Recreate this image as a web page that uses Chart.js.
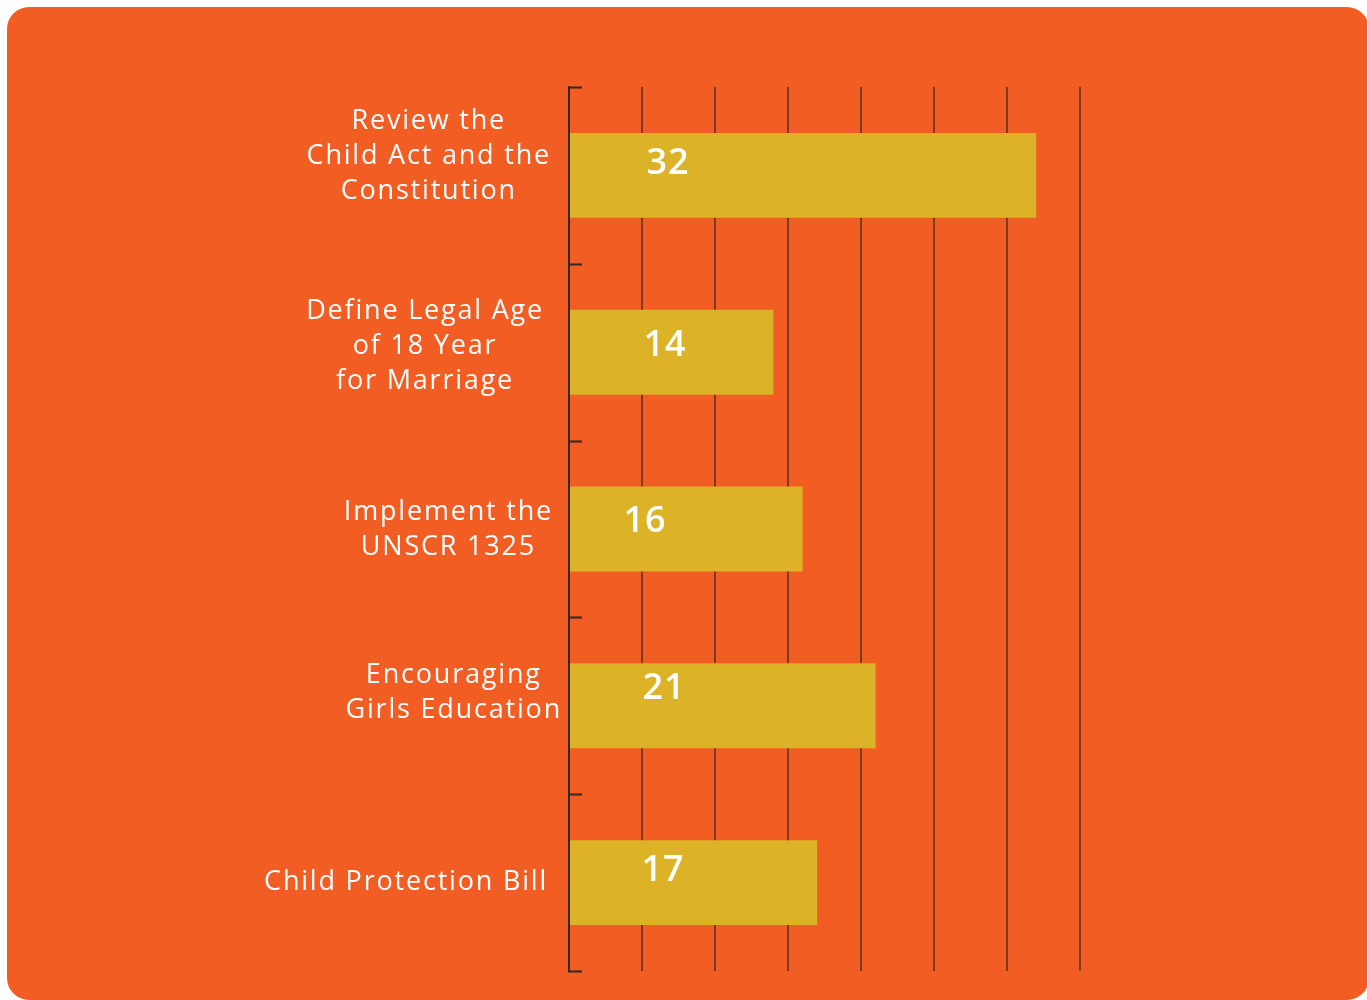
<!DOCTYPE html>
<html>
<head>
<meta charset="utf-8">
<title>Policy priorities</title>
<script src="https://cdn.jsdelivr.net/npm/chart.js@4/dist/chart.umd.min.js"></script>
<style>
  html, body { margin: 0; padding: 0; background: #ffffff; }
  #wrap { position: relative; width: 1367px; height: 1000px; }
  #panel {
    position: absolute; left: 7px; top: 7px; width: 1362px; height: 993px;
    background: #f25d24; border-radius: 22px;
  }
  #bars { position: absolute; left: 0; top: 0; }
</style>
</head>
<body>
<div id="wrap">
  <div id="panel"></div>
  <canvas id="bars" width="1367" height="1000"></canvas>
</div>
<script>
const categories = [
  ['Review the', 'Child Act and the', 'Constitution'],
  ['Define Legal Age', 'of 18 Year', 'for Marriage'],
  ['Implement the', 'UNSCR 1325'],
  ['Encouraging', 'Girls Education'],
  ['Child Protection Bill']
];
const votes = [32, 14, 16, 21, 17];
const xTicks = [0, 5, 10, 15, 20, 25, 30, 35];

// hand placement of the text blocks (px)
const labelShift = [-19, -6, 1, -13, 0];
const labelRight = [551, 544, 553, 562, 548];
const valueShift = [[99, -12], [96, -6], [76, -7], [95, -17], [94, -12]];

const labelFont = '400 27px "Open Sans", sans-serif';
const valueFont = '600 36px "Open Sans", sans-serif';

// category labels, boundary ticks and bar values drawn on top of the chart
const decorations = {
  id: 'decorations',
  afterDraw(chart) {
    const ctx = chart.ctx;
    const x = chart.scales.x;
    const y = chart.scales.y;
    const left = x.getPixelForValue(0);
    ctx.save();

    // little ticks between categories, pointing into the plot
    ctx.strokeStyle = '#2d2a28';
    ctx.lineWidth = 2;
    for (let i = 0; i <= categories.length; i++) {
      const py = Math.round(y.getPixelForValue(i - 0.5)) + 0.5;
      ctx.beginPath();
      ctx.moveTo(left - 1, py);
      ctx.lineTo(left + 13, py);
      ctx.stroke();
    }

    // multi-line labels: block right aligned next to the axis, lines centred
    ctx.fillStyle = '#ffffff';
    ctx.font = labelFont;
    ctx.letterSpacing = '1.8px';
    ctx.textAlign = 'center';
    ctx.textBaseline = 'middle';
    const lineH = 35;
    categories.forEach((lines, i) => {
      const w = Math.max(...lines.map(l => ctx.measureText(l).width));
      const cx = labelRight[i] - w / 2;
      const cy = y.getPixelForValue(i) + labelShift[i];
      lines.forEach((l, k) => {
        ctx.fillText(l, cx, cy + (k - (lines.length - 1) / 2) * lineH);
      });
    });

    // value inside each bar
    ctx.font = valueFont;
    ctx.letterSpacing = '1px';
    votes.forEach((v, i) => {
      const [dx, dy] = valueShift[i];
      ctx.fillText(String(v), left + dx, y.getPixelForValue(i) + dy);
    });
    ctx.restore();
  }
};

new Chart(document.getElementById('bars'), {
  type: 'bar',
  data: {
    labels: categories,
    datasets: [{
      data: votes,
      backgroundColor: '#dcb226',
      borderWidth: 0,
      categoryPercentage: 1,
      barPercentage: 0.48
    }]
  },
  options: {
    indexAxis: 'y',
    responsive: false,
    animation: false,
    layout: { padding: { left: 569, right: 287, top: 87, bottom: 29 } },
    plugins: {
      legend: { display: false },
      tooltip: { enabled: false }
    },
    scales: {
      x: {
        min: xTicks[0],
        max: xTicks[xTicks.length - 1],
        afterBuildTicks: axis => { axis.ticks = xTicks.map(v => ({ value: v })); },
        ticks: { display: false },
        grid: { color: '#7d3a1c', lineWidth: 2, drawTicks: false },
        border: { display: false }
      },
      y: {
        ticks: { display: false },
        grid: { display: false, drawTicks: false },
        border: { display: true, color: '#2d2a28', width: 2 }
      }
    }
  },
  plugins: [decorations]
});
</script>
</body>
</html>
